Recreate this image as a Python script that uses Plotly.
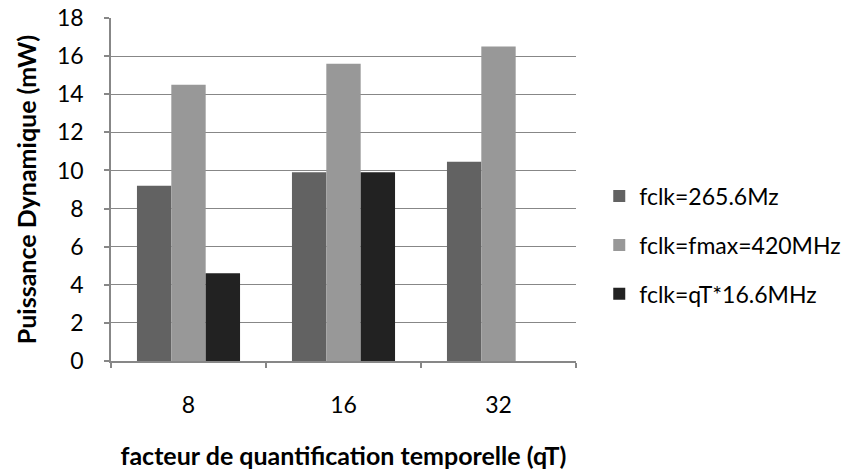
import plotly.graph_objects as go

categories = ["8", "16", "32"]
series_names = ["fclk=265.6Mz", "fclk=fmax=420MHz", "fclk=qT*16.6MHz"]
s1 = [9.2, 9.9, 10.45]
s2 = [14.5, 15.6, 16.5]
s3 = [4.6, 9.9, None]
colors = ["#626262", "#989898", "#222222"]
y_ticks = [0, 2, 4, 6, 8, 10, 12, 14, 16, 18]

FONT = "Lato"
fig = go.Figure()
for i, (name, vals) in enumerate(zip(series_names, [s1, s2, s3])):
    fig.add_trace(go.Bar(
        x=categories, y=vals, name=name,
        marker=dict(color=colors[i], line=dict(width=0)),
        legendgroup=f"g{i}",
    ))

fig.update_layout(
    width=848, height=470,
    margin=dict(l=111, r=272, t=18, b=109, pad=0, autoexpand=False),
    paper_bgcolor="white", plot_bgcolor="white",
    barmode="group", bargap=0.335, bargroupgap=0,
    font=dict(family=FONT, size=22, color="#000000"),
    legend=dict(
        x=1.05, y=0.338, xanchor="left", yanchor="middle",
        font=dict(family=FONT, size=23, color="#000000"),
        tracegroupgap=16, traceorder="grouped",
        itemwidth=30, bgcolor="rgba(0,0,0,0)",
    ),
    xaxis=dict(
        type="category", showgrid=False, automargin=False,
        showline=True, linecolor="#878787", linewidth=1.5,
        ticks="outside", tickson="boundaries", ticklen=5, tickcolor="#878787", tickwidth=1.5,
        tickfont=dict(family=FONT, size=23, color="#000000"),
        ticklabelstandoff=23,
        title=dict(text="<b>facteur de quantification temporelle (qT)</b>",
                   font=dict(family=FONT, size=25, color="#000000"), standoff=32),
    ),
    yaxis=dict(
        range=[0, 18], tickvals=y_ticks, automargin=False,
        showgrid=True, gridcolor="#878787", gridwidth=1.2,
        showline=True, linecolor="#878787", linewidth=1.5,
        ticks="outside", ticklen=5, tickcolor="#878787", tickwidth=1.5,
        tickfont=dict(family=FONT, size=23, color="#000000"),
        ticklabelstandoff=16,
        zeroline=False,
        title=dict(text="<b>Puissance Dynamique (mW)</b>",
                   font=dict(family=FONT, size=25, color="#000000"), standoff=13),
    ),
)

fig.write_html("out.html", config={"displayModeBar": False},
               post_script="document.body.style.margin='0';")
